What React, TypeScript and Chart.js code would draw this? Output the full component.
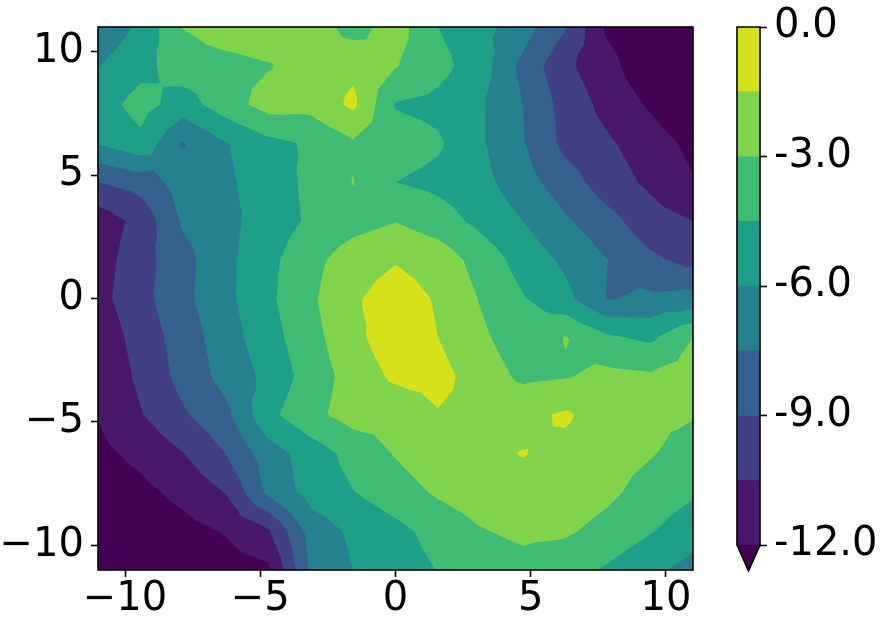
import { useEffect, useRef } from 'react';
import { Chart, registerables } from 'chart.js';
Chart.register(...registerables);

// grid coordinates (x left->right, y top->bottom)
const xGrid = [-11, -9.43, -7.86, -6.29, -4.71, -3.14, -1.57, 0, 1.57, 3.14, 4.71, 6.29, 7.86, 9.43, 11];
const yGrid = [11, 9.43, 7.86, 6.29, 4.71, 3.14, 1.57, 0, -1.57, -3.14, -4.71, -6.29, -7.86, -9.43, -11];

// z values, one row per yGrid entry
const zGrid = [
  [-7.2, -5.7, -2.95, -2.2, -2.0, -2.1, -3.6, -2.3, -4.5, -5.5, -6.8, -8.9, -12.3, -13.2, -14.0],
  [-6.05, -5.0, -3.7, -3.5, -3.1, -2.3, -1.8, -2.9, -4.0, -5.3, -7.9, -10.2, -11.5, -13.2, -14.0],
  [-5.25, -3.9, -5.2, -3.7, -2.4, -2.5, -1.2, -4.6, -4.9, -5.8, -7.5, -9.6, -11.0, -12.2, -13.5],
  [-5.95, -4.9, -7.6, -6.1, -4.9, -4.3, -3.2, -3.8, -4.3, -5.8, -7.4, -9.4, -10.3, -11.3, -12.4],
  [-9.0, -8.4, -6.8, -6.3, -5.2, -4.2, -2.95, -4.5, -4.9, -5.5, -6.9, -8.3, -9.8, -10.8, -11.9],
  [-11.4, -10.0, -7.3, -6.5, -5.2, -4.3, -3.6, -3.05, -3.8, -4.9, -6.0, -7.3, -8.5, -9.9, -10.5],
  [-11.2, -9.6, -8.0, -6.4, -4.9, -3.5, -2.2, -1.6, -2.1, -3.6, -5.1, -6.3, -7.5, -8.7, -9.5],
  [-11.0, -9.5, -7.9, -6.4, -4.8, -3.25, -1.7, -0.8, -1.65, -3.1, -4.4, -5.6, -7.6, -7.2, -7.0],
  [-11.5, -9.9, -8.3, -6.7, -5.1, -3.5, -1.95, -0.5, -1.5, -2.7, -3.9, -2.95, -4.3, -4.8, -3.0],
  [-11.7, -10.2, -8.5, -7.0, -5.6, -3.8, -2.4, -1.2, -1.0, -2.2, -3.3, -3.1, -2.6, -2.8, -2.3],
  [-11.9, -10.6, -9.2, -7.9, -4.9, -3.4, -2.4, -2.6, -1.6, -2.0, -1.9, -1.3, -2.3, -2.7, -2.9],
  [-12.4, -11.6, -10.55, -9.0, -6.7, -5.3, -4.0, -2.9, -2.0, -1.8, -1.45, -1.9, -2.4, -2.9, -3.6],
  [-13.0, -12.4, -11.6, -10.45, -7.2, -5.4, -4.55, -3.7, -2.8, -2.2, -1.9, -2.1, -2.7, -3.6, -4.3],
  [-13.5, -13.0, -12.5, -11.9, -10.7, -6.9, -5.7, -4.9, -4.0, -3.1, -2.7, -2.8, -3.5, -4.4, -5.4],
  [-14.0, -13.7, -13.2, -12.6, -12.3, -7.3, -6.0, -5.2, -4.45, -3.8, -3.5, -3.9, -4.7, -5.7, -6.5],
];

const levels = [-12, -10.5, -9, -7.5, -6, -4.5, -3, -1.5, 0];
const bandColors = ['#48186a', '#424085', '#34618d', '#26818e', '#209f88', '#3fbb74', '#82d34c', '#d5e21b'];
const underColor = '#440154';
const xTicks = [-10, -5, 0, 5, 10];
const yTicks = [-10, -5, 0, 5, 10];
const cbTicks = [-12, -9, -6, -3, 0];

const FONT = 'DejaVu Sans';
const minus = (v: number) => (v < 0 ? '\u2212' + Math.abs(v) : String(v));

type P = [number, number, number];
function clipAbove(poly: P[], L: number): P[] {
  const out: P[] = [];
  for (let m = 0; m < poly.length; m++) {
    const A = poly[m];
    const B = poly[(m + 1) % poly.length];
    const ina = A[2] >= L;
    const inb = B[2] >= L;
    if (ina) out.push(A);
    if (ina !== inb) {
      const t = (L - A[2]) / (B[2] - A[2]);
      out.push([A[0] + t * (B[0] - A[0]), A[1] + t * (B[1] - A[1]), L]);
    }
  }
  return out;
}

const contourPlugin = {
  id: 'contourFill',
  beforeDatasetsDraw(chart: any) {
    const { ctx, chartArea: a, scales } = chart;
    const px = xGrid.map((v) => scales.x.getPixelForValue(v));
    const py = yGrid.map((v) => scales.y.getPixelForValue(v));
    ctx.save();
    ctx.beginPath();
    ctx.rect(a.left, a.top, a.right - a.left, a.bottom - a.top);
    ctx.clip();
    ctx.fillStyle = underColor;
    ctx.fillRect(a.left, a.top, a.right - a.left, a.bottom - a.top);
    for (let k = 0; k < bandColors.length; k++) {
      const L = levels[k];
      ctx.beginPath();
      for (let j = 0; j < yGrid.length - 1; j++) {
        for (let i = 0; i < xGrid.length - 1; i++) {
          const p0: P = [px[i], py[j], zGrid[j][i]];
          const p1: P = [px[i + 1], py[j], zGrid[j][i + 1]];
          const p2: P = [px[i + 1], py[j + 1], zGrid[j + 1][i + 1]];
          const p3: P = [px[i], py[j + 1], zGrid[j + 1][i]];
          const c: P = [
            (p0[0] + p1[0]) / 2,
            (p0[1] + p3[1]) / 2,
            (p0[2] + p1[2] + p2[2] + p3[2]) / 4,
          ];
          const corners = [p0, p1, p2, p3];
          for (let t = 0; t < 4; t++) {
            const poly = clipAbove([c, corners[t], corners[(t + 1) % 4]], L);
            if (poly.length >= 3) {
              ctx.moveTo(poly[0][0], poly[0][1]);
              for (let q = 1; q < poly.length; q++) ctx.lineTo(poly[q][0], poly[q][1]);
              ctx.closePath();
            }
          }
        }
      }
      ctx.fillStyle = bandColors[k];
      ctx.fill();
    }
    ctx.restore();
  },
  afterDatasetsDraw(chart: any) {
    const { ctx, chartArea: a } = chart;
    ctx.save();
    ctx.strokeStyle = '#000';
    ctx.lineWidth = 1.6;
    ctx.strokeRect(a.left, a.top, a.right - a.left, a.bottom - a.top);
    ctx.restore();
  },
};

const cbPlugin = {
  id: 'cbExtend',
  afterDatasetsDraw(chart: any) {
    const { ctx, chartArea: a, scales } = chart;
    const ys = scales.y;
    const yTop = ys.getPixelForValue(levels[levels.length - 1]);
    const yBot = ys.getPixelForValue(levels[0]);
    const yTip = ys.getPixelForValue(levels[0] - 0.05 * (levels[levels.length - 1] - levels[0]));
    const cx = (a.left + a.right) / 2;
    ctx.save();
    ctx.fillStyle = underColor;
    ctx.beginPath();
    ctx.moveTo(a.left, yBot);
    ctx.lineTo(a.right, yBot);
    ctx.lineTo(cx, yTip);
    ctx.closePath();
    ctx.fill();
    ctx.strokeStyle = '#000';
    ctx.lineWidth = 1.6;
    ctx.beginPath();
    ctx.moveTo(a.left, yTop);
    ctx.lineTo(a.right, yTop);
    ctx.lineTo(a.right, yBot);
    ctx.lineTo(cx, yTip);
    ctx.lineTo(a.left, yBot);
    ctx.closePath();
    ctx.stroke();
    ctx.restore();
  },
};

export default function App() {
  const mainRef = useRef<HTMLCanvasElement>(null);
  const cbRef = useRef<HTMLCanvasElement>(null);

  useEffect(() => {
    document.body.style.margin = '0';
    document.body.style.background = '#fff';

    const gridNodes: { x: number; y: number }[] = [];
    yGrid.forEach((y) => xGrid.forEach((x) => gridNodes.push({ x, y })));

    const tickGrid = {
      drawOnChartArea: false,
      drawTicks: true,
      tickLength: 7,
      tickWidth: 1.6,
      tickColor: '#000',
    };

    const main = new Chart(mainRef.current as HTMLCanvasElement, {
      type: 'scatter',
      data: { datasets: [{ data: gridNodes, pointRadius: 0, showLine: false }] },
      options: {
        animation: false,
        responsive: false,
        maintainAspectRatio: false,
        layout: { padding: { top: 15, right: 7, left: 0, bottom: 0 } },
        plugins: { legend: { display: false }, tooltip: { enabled: false } },
        scales: {
          x: {
            type: 'linear',
            min: -11,
            max: 11,
            afterBuildTicks: (s: any) => {
              s.ticks = xTicks.map((v) => ({ value: v }));
            },
            afterFit: (s: any) => {
              s.height = 47;
            },
            grid: tickGrid,
            border: { display: false },
            ticks: {
              color: '#000',
              font: { family: FONT, size: 40, lineHeight: 1 },
              padding: 3,
              maxRotation: 0,
              autoSkip: false,
              callback: (v: any) => minus(Number(v)),
            },
          },
          y: {
            type: 'linear',
            min: -11,
            max: 11,
            afterBuildTicks: (s: any) => {
              s.ticks = yTicks.map((v) => ({ value: v }));
            },
            afterFit: (s: any) => {
              s.width = 98;
            },
            grid: tickGrid,
            border: { display: false },
            ticks: {
              color: '#000',
              font: { family: FONT, size: 40, lineHeight: 1 },
              padding: 7,
              autoSkip: false,
              callback: (v: any) => minus(Number(v)),
            },
          },
        },
      },
      plugins: [contourPlugin],
    } as any);

    const cb = new Chart(cbRef.current as HTMLCanvasElement, {
      type: 'bar',
      data: {
        labels: ['cb'],
        datasets: bandColors.map((c, k) => ({
          data: [[levels[k], levels[k + 1]]],
          backgroundColor: c,
          borderWidth: 0,
          barPercentage: 1,
          categoryPercentage: 1,
          grouped: false,
        })),
      },
      options: {
        animation: false,
        responsive: false,
        maintainAspectRatio: false,
        layout: { padding: { top: 15, left: 37, bottom: 72, right: 0 } },
        plugins: { legend: { display: false }, tooltip: { enabled: false } },
        scales: {
          x: { display: false },
          y: {
            type: 'linear',
            position: 'right',
            min: levels[0],
            max: levels[levels.length - 1],
            afterBuildTicks: (s: any) => {
              s.ticks = cbTicks.map((v) => ({ value: v }));
            },
            afterFit: (s: any) => {
              s.width = 120;
            },
            grid: tickGrid,
            border: { display: false },
            ticks: {
              color: '#000',
              font: { family: FONT, size: 40, lineHeight: 1 },
              padding: 7,
              autoSkip: false,
              callback: (v: any) => Number(v).toFixed(1),
            },
          },
        },
      },
      plugins: [cbPlugin],
    } as any);

    return () => {
      main.destroy();
      cb.destroy();
    };
  }, []);

  return (
    <div style={{ position: 'relative', width: 880, height: 617, background: '#fff' }}>
      <canvas ref={mainRef} width={700} height={617} style={{ position: 'absolute', left: 0, top: 0 }} />
      <canvas ref={cbRef} width={180} height={617} style={{ position: 'absolute', left: 700, top: 0 }} />
    </div>
  );
}
